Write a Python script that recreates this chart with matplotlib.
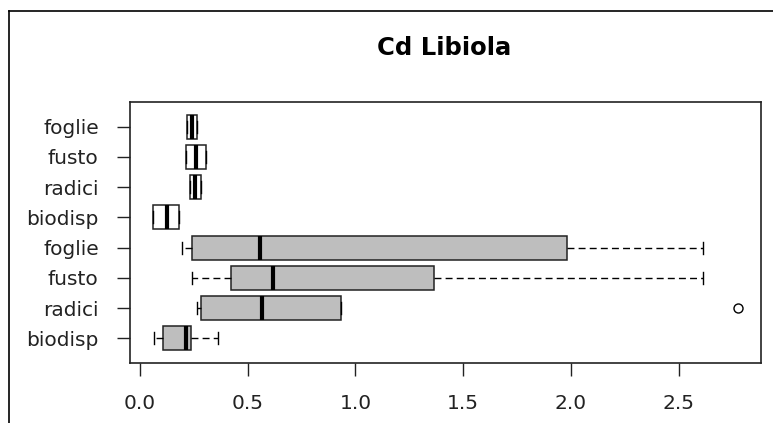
import matplotlib
matplotlib.use("Agg")
import matplotlib.pyplot as plt
from matplotlib.lines import Line2D

# box statistics (bottom to top)
labels = ["biodisp", "radici", "fusto", "foglie", "biodisp", "radici", "fusto", "foglie"]
whislo = [0.065, 0.263, 0.244, 0.196, 0.062, 0.234, 0.212, 0.220]
q1 = [0.105, 0.283, 0.422, 0.241, 0.062, 0.234, 0.212, 0.220]
med = [0.212, 0.566, 0.616, 0.558, 0.124, 0.255, 0.258, 0.240]
q3 = [0.235, 0.931, 1.364, 1.983, 0.181, 0.283, 0.305, 0.263]
whishi = [0.363, 0.931, 2.614, 2.614, 0.181, 0.283, 0.305, 0.263]
fliers = [[], [2.773], [], [], [], [], [], []]
fills = ["#bebebe"] * 4 + ["white"] * 4

xticks = [0.0, 0.5, 1.0, 1.5, 2.0, 2.5]

plt.rcParams['font.family'] = ['DejaVu Sans']

stats = []
for i in range(len(labels)):
    stats.append(dict(whislo=whislo[i], q1=q1[i], med=med[i], q3=q3[i],
                      whishi=whishi[i], fliers=fliers[i], label=labels[i]))

fig = plt.figure(figsize=(7.73, 4.23), dpi=100)
ax = fig.add_axes([130 / 773, 60 / 423, 631 / 773, 261 / 423])

positions = list(range(1, len(labels) + 1))
bp = ax.bxp(stats, positions=positions, vert=False, widths=0.8, capwidths=0.4,
            patch_artist=True,
            boxprops=dict(edgecolor="#222222", linewidth=1.1),
            medianprops=dict(color="black", linewidth=3.0, solid_capstyle="butt"),
            whiskerprops=dict(color="black", linewidth=1.0, linestyle=(0, (5, 3))),
            capprops=dict(color="black", linewidth=1.0),
            flierprops=dict(marker="o", markerfacecolor="none", markeredgecolor="black",
                            markersize=6.5, markeredgewidth=1.0))
for patch, c in zip(bp["boxes"], fills):
    patch.set_facecolor(c)

ax.set_xlim(-0.046, 2.882)
ax.set_ylim(0.18, 8.82)
ax.set_xticks(xticks)
ax.set_xticklabels([f"{t:.1f}" for t in xticks])
ax.set_yticks(positions)
ax.set_yticklabels(labels)
ax.tick_params(axis="x", length=9.5, width=1, pad=13, labelsize=14.5, colors="#222222")
ax.tick_params(axis="y", length=9.5, width=1, pad=13, labelsize=14.5, colors="#222222")
for sp in ax.spines.values():
    sp.set_linewidth(1.2)
    sp.set_color("#222222")

fig.text(444.5 / 773, 1 - 48 / 423, "Cd Libiola", ha="center", va="center",
         fontsize=17.5, fontweight="bold")

# outer frame lines of the screenshot
fig.add_artist(Line2D([9 / 773, 9 / 773], [0, 1 - 11 / 423], color="black", lw=1.2,
                      transform=fig.transFigure))
fig.add_artist(Line2D([9 / 773, 1], [1 - 11 / 423, 1 - 11 / 423], color="black", lw=1.2,
                      transform=fig.transFigure))

fig.savefig("out.png", dpi=100)
